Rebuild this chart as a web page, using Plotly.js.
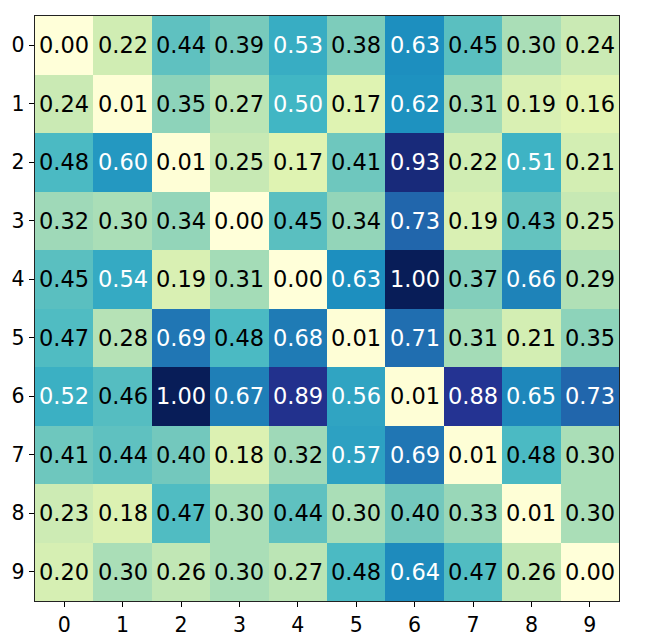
<!DOCTYPE html>
<html>
<head>
<meta charset="utf-8">
<script src="https://cdn.plot.ly/plotly-3.0.1.min.js"></script>
<style>
  html, body { margin: 0; padding: 0; background: #fff; }
  #chart { width: 651px; height: 643px; }
</style>
</head>
<body>
<div id="chart"></div>
<script>
var labels = [0, 1, 2, 3, 4, 5, 6, 7, 8, 9];

var values = [
    [0.00, 0.22, 0.44, 0.39, 0.53, 0.38, 0.63, 0.45, 0.30, 0.24],
    [0.24, 0.01, 0.35, 0.27, 0.50, 0.17, 0.62, 0.31, 0.19, 0.16],
    [0.48, 0.60, 0.01, 0.25, 0.17, 0.41, 0.93, 0.22, 0.51, 0.21],
    [0.32, 0.30, 0.34, 0.00, 0.45, 0.34, 0.73, 0.19, 0.43, 0.25],
    [0.45, 0.54, 0.19, 0.31, 0.00, 0.63, 1.00, 0.37, 0.66, 0.29],
    [0.47, 0.28, 0.69, 0.48, 0.68, 0.01, 0.71, 0.31, 0.21, 0.35],
    [0.52, 0.46, 1.00, 0.67, 0.89, 0.56, 0.01, 0.88, 0.65, 0.73],
    [0.41, 0.44, 0.40, 0.18, 0.32, 0.57, 0.69, 0.01, 0.48, 0.30],
    [0.23, 0.18, 0.47, 0.30, 0.44, 0.30, 0.40, 0.33, 0.01, 0.30],
    [0.20, 0.30, 0.26, 0.30, 0.27, 0.48, 0.64, 0.47, 0.26, 0.00]
];

// matplotlib YlGnBu
var ylgnbu = [
    [0.000, '#ffffd9'], [0.125, '#edf8b1'], [0.250, '#c7e9b4'],
    [0.375, '#7fcdbb'], [0.500, '#41b6c4'], [0.625, '#1d91c0'],
    [0.750, '#225ea8'], [0.875, '#253494'], [1.000, '#081d58']
];

var notes = [];
values.forEach(function (row, i) {
    row.forEach(function (v, j) {
        notes.push({
            x: labels[j], y: labels[i], xref: 'x', yref: 'y',
            text: v.toFixed(2), showarrow: false,
            font: { family: 'DejaVu Sans', size: 22.5, color: v >= 0.5 ? '#ffffff' : '#000000' }
        });
    });
});

var data = [{
    type: 'heatmap',
    z: values,
    x: labels,
    y: labels,
    zmin: 0,
    zmax: 1,
    colorscale: ylgnbu,
    showscale: false,
    hoverinfo: 'skip'
}];

var axisStyle = {
    tickmode: 'array',
    tickvals: labels,
    ticks: 'outside',
    ticklen: 5,
    tickwidth: 1,
    tickcolor: '#000',
    showline: true,
    linecolor: '#222',
    linewidth: 1.3,
    mirror: true,
    showgrid: false,
    zeroline: false,
    tickfont: { family: 'DejaVu Sans', size: 20.5, color: '#000' }
};

var layout = {
    width: 651,
    height: 643,
    margin: { l: 35, r: 32, t: 16, b: 42 },
    paper_bgcolor: '#fff',
    plot_bgcolor: '#fff',
    xaxis: Object.assign({}, axisStyle, { range: [-0.5, 9.5] }),
    yaxis: Object.assign({}, axisStyle, { range: [9.5, -0.5] }),
    annotations: notes
};

Plotly.newPlot('chart', data, layout, { displayModeBar: false, staticPlot: true });
</script>
</body>
</html>
